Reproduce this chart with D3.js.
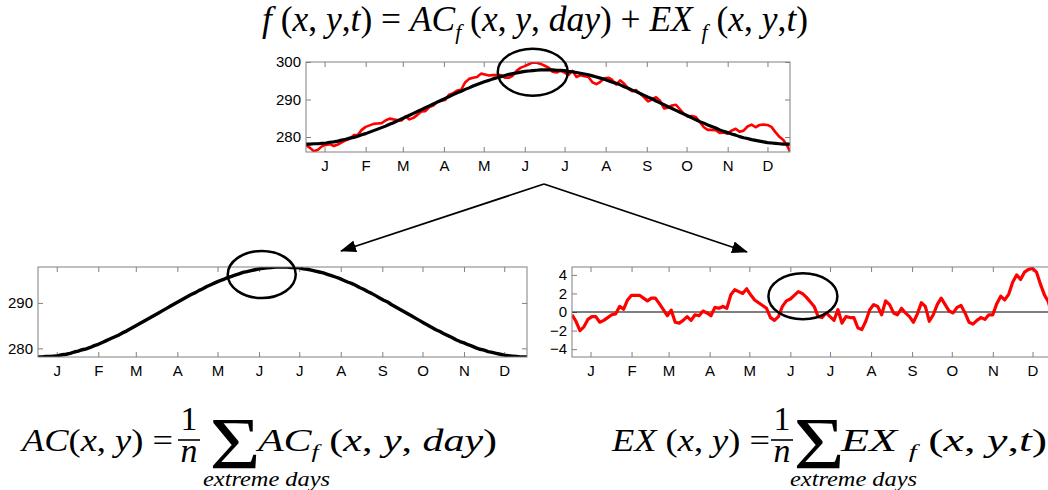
<!DOCTYPE html>
<html><head><meta charset="utf-8">
<script src="https://cdn.jsdelivr.net/npm/d3@7"></script>
<style>body{margin:0;background:#fff} svg{display:block}</style>
</head><body>
<svg id="chart" width="1048" height="490"></svg>
<script>
// ---------------- data ----------------
const months = ["J","F","M","A","M","J","J","A","S","O","N","D"];
const monthTickDays = [14,45,73,104,134,165,195,226,257,287,318,348];
const days = d3.range(0, 364, 3).concat([365]);
// annual cycle AC_f(x,y,day) (K)
const acValues = [
 278.1,278.1,278.2,278.2,278.3,278.4,278.6,278.7,278.9,279.2,
 279.4,279.7,279.9,280.2,280.6,280.9,281.3,281.7,282.1,282.5,
 282.9,283.4,283.8,284.3,284.8,285.3,285.8,286.3,286.8,287.3,
 287.8,288.3,288.8,289.3,289.8,290.3,290.8,291.3,291.8,292.2,
 292.7,293.1,293.6,294.0,294.4,294.8,295.1,295.5,295.8,296.1,
 296.4,296.7,296.9,297.1,297.3,297.5,297.6,297.7,297.8,297.9,
 297.9,297.9,297.9,297.8,297.8,297.7,297.5,297.4,297.2,297.0,
 296.8,296.6,296.3,296.0,295.7,295.4,295.0,294.6,294.3,293.9,
 293.4,293.0,292.5,292.1,291.6,291.1,290.6,290.2,289.6,289.1,
 288.6,288.1,287.6,287.1,286.6,286.1,285.6,285.1,284.6,284.1,
 283.7,283.2,282.8,282.4,281.9,281.5,281.2,280.8,280.5,280.1,
 279.8,279.6,279.3,279.1,278.9,278.7,278.5,278.4,278.3,278.2,
 278.1,278.1,278.1
];
// anomaly EX_f(x,y,t) (K)
const exValues = [
 -0.3,-1.0,-2.0,-1.6,-0.8,-0.5,-0.5,-1.1,-0.9,-0.6,
 -0.3,-0.2,0.6,0.3,1.3,1.8,1.8,1.8,1.5,1.2,
 1.5,1.5,0.9,0.25,-0.4,0.2,-1.1,-1.2,-0.9,-0.5,
 -0.9,-0.3,-0.4,0.1,-0.1,-0.4,0.5,0.4,0.6,0.4,
 1.85,2.4,2.2,2.0,2.5,1.85,1.3,1.0,0.7,0.4,
 -0.6,-0.9,-0.5,0.6,1.2,1.4,1.8,2.2,2.0,1.6,
 1.1,0.6,-0.5,-0.6,-0.1,-0.5,-0.9,0.25,-1.2,-0.5,
 -0.6,-0.6,-1.7,-1.9,-1.0,0.25,0.8,0.6,-0.3,1.2,
 0.8,-0.1,-0.3,0.4,-0.1,-0.5,-1.1,-0.2,1.0,0.6,
 -1.0,-0.3,0.8,1.5,0.8,0.1,-0.1,0.5,0.7,-0.1,
 -1.1,-1.3,-0.9,-0.6,-0.8,-0.3,-0.3,0.9,1.7,1.3,
 1.9,3.2,4.0,3.5,4.3,4.6,4.7,4.3,3.0,1.85,
 1.1,-0.5,-2.0
];
// full field f = AC + EX
const fValues = acValues.map((v, i) => +(v + exValues[i]).toFixed(2));

const topYTicks = [280, 290, 300];
const acYTicks = [280, 290];
const exYTicks = [-4, -2, 0, 2, 4];

// ---------------- drawing ----------------
const svg = d3.select("#chart");
const AXIS = "#808080";
const SANS = "'Liberation Sans', Arial, Helvetica, sans-serif";
const SERIF = "'Liberation Serif', Tinos, 'Times New Roman', Times, 'Noto Serif', 'DejaVu Serif', serif";
const defs = svg.append("defs");
let clipN = 0;

// measure real glyph ink by rasterising into a canvas
function inkBox(str, css) {
  const W = 500, H = 320, ox = 120, oy = 220;
  const c = document.createElement("canvas"); c.width = W; c.height = H;
  const cx = c.getContext("2d");
  cx.font = css; cx.fillStyle = "#000"; cx.textBaseline = "alphabetic";
  cx.fillText(str, ox, oy);
  const d = cx.getImageData(0, 0, W, H).data;
  let x0 = 1e9, x1 = -1, y0 = 1e9, y1 = -1;
  for (let yy = 0; yy < H; yy++) for (let xx = 0; xx < W; xx++) {
    if (d[(yy * W + xx) * 4 + 3] > 110) {
      if (xx < x0) x0 = xx; if (xx > x1) x1 = xx;
      if (yy < y0) y0 = yy; if (yy > y1) y1 = yy;
    }
  }
  if (x1 < 0) return null;
  return {left: x0 - ox, right: x1 + 1 - ox, top: oy - y0, bottom: y1 + 1 - oy};
}
const hBox = inkBox("H", `100px ${SERIF}`);
const capRatio = hBox ? hBox.top / 100 : 0.66;

function panel(o) {
  const x = d3.scaleLinear().domain([0, 365]).range([o.x0, o.x1]);
  const y = d3.scaleLinear().domain(o.yDomain).range([o.y1, o.y0]);
  const g = svg.append("g");
  const cid = "clip" + (clipN++);
  defs.append("clipPath").attr("id", cid).append("rect")
    .attr("x", o.x0).attr("y", o.y0).attr("width", o.x1 - o.x0).attr("height", o.y1 - o.y0);

  const ax = (sel) => {
    sel.select(".domain").remove();
    sel.selectAll(".tick line").attr("stroke", AXIS).attr("stroke-width", 1);
    sel.selectAll("text").attr("font-family", SANS).attr("font-size", 15).attr("fill", "#000");
  };
  g.append("g").attr("transform", `translate(0,${o.y1})`)
    .call(d3.axisBottom(x).tickValues(monthTickDays).tickFormat((d, i) => months[i])
      .tickSizeInner(-5).tickSizeOuter(0).tickPadding(8)).call(ax);
  g.append("g").attr("transform", `translate(0,${o.y0})`)
    .call(d3.axisTop(x).tickValues(monthTickDays).tickFormat("")
      .tickSizeInner(-5).tickSizeOuter(0)).call(ax);
  g.append("g").attr("transform", `translate(${o.x0},0)`)
    .call(d3.axisLeft(y).tickValues(o.yTicks).tickSizeInner(-5).tickSizeOuter(0).tickPadding(5)).call(ax);
  g.append("g").attr("transform", `translate(${o.x1},0)`)
    .call(d3.axisRight(y).tickValues(o.yTicks).tickFormat("").tickSizeInner(-5).tickSizeOuter(0)).call(ax);

  if (o.zero) {
    g.append("line").attr("x1", o.x0).attr("x2", o.x1).attr("y1", y(0)).attr("y2", y(0))
      .attr("stroke", "#000").attr("stroke-width", 1.2);
  }
  const lg = g.append("g").attr("clip-path", `url(#${cid})`);
  o.series.forEach(s => {
    lg.append("path")
      .datum(days.map((d, i) => [d, s.values[i]]))
      .attr("fill", "none").attr("stroke", s.color).attr("stroke-width", s.width)
      .attr("stroke-linejoin", "round")
      .attr("d", d3.line().x(d => x(d[0])).y(d => y(d[1])));
  });
  g.append("rect").attr("x", o.x0).attr("y", o.y0)
    .attr("width", o.x1 - o.x0).attr("height", o.y1 - o.y0)
    .attr("fill", "none").attr("stroke", AXIS).attr("stroke-width", 1);

  if (o.ellipse) {
    svg.append("ellipse")
      .attr("cx", x(o.ellipse.day)).attr("cy", y(o.ellipse.value))
      .attr("rx", o.ellipse.rx).attr("ry", o.ellipse.ry)
      .attr("fill", "none").attr("stroke", "#000").attr("stroke-width", 2.5);
  }
}

panel({x0: 306, x1: 790, y0: 62, y1: 152, yDomain: [276, 300], yTicks: topYTicks,
  series: [{values: fValues, color: "#ff0000", width: 2.6}, {values: acValues, color: "#000", width: 3.2}],
  ellipse: {day: 171, value: 297.3, rx: 35, ry: 23.5}});
panel({x0: 38, x1: 527, y0: 267, y1: 357, yDomain: [278.1, 297.9], yTicks: acYTicks,
  series: [{values: acValues, color: "#000", width: 3.4}],
  ellipse: {day: 167, value: 296.25, rx: 34, ry: 23.5}});
panel({x0: 572, x1: 1055, y0: 267, y1: 357, yDomain: [-4.85, 4.85], yTicks: exYTicks, zero: true,
  series: [{values: exValues, color: "#ff0000", width: 3.2}],
  ellipse: {day: 174.5, value: 1.7, rx: 34.5, ry: 23}});

// arrows
defs.append("marker").attr("id", "ah").attr("viewBox", "0 0 16 12")
  .attr("refX", 15).attr("refY", 6).attr("markerWidth", 16).attr("markerHeight", 12)
  .attr("markerUnits", "userSpaceOnUse").attr("orient", "auto")
  .append("path").attr("d", "M0,0 L16,6 L0,12 Z").attr("fill", "#000");
[[341, 251], [747, 252]].forEach(([tx, ty]) => {
  svg.append("line").attr("x1", 544).attr("y1", 184).attr("x2", tx).attr("y2", ty)
    .attr("stroke", "#000").attr("stroke-width", 1.8).attr("marker-end", "url(#ah)");
});

// formulas: font size from target cap height, horizontal scale to target width
function formula(segs, x, baseline, width, cap) {
  const size = cap / capRatio;
  const t = svg.append("text").attr("font-family", SERIF).attr("font-size", size)
    .attr("fill", "#000").style("white-space", "pre");
  let shift = 0;
  segs.forEach(([s, k]) => {
    const ts = t.append("tspan").text(s);
    if (k === "sub") {
      ts.attr("font-style", "italic").attr("font-size", size * 0.62).attr("dy", 0.24 * size - shift);
      shift = 0.24 * size;
    } else {
      if (shift) { ts.attr("dy", -shift); shift = 0; }
      ts.attr("font-style", k === "i" ? "italic" : "normal");
    }
  });
  const w = t.node().getComputedTextLength();
  t.attr("transform", `translate(${x},${baseline}) scale(${width / w},1)`);
  return t;
}

formula([["f","i"],[" (","r"],["x","i"],[", ","r"],["y","i"],[",","r"],["t","i"],[")","r"],[" = ","r"],
  ["AC","i"],["f","sub"],[" (","r"],["x","i"],[", ","r"],["y","i"],[", ","r"],["day","i"],[")","r"],[" + ","r"],
  ["EX","i"],[" ","r"],["f","sub"],[" (","r"],["x","i"],[", ","r"],["y","i"],[",","r"],["t","i"],[")","r"]],
  262, 31, 546, 23);

function sigma(x0, x1, yTop, yBot) {
  const m = inkBox("Σ", `100px ${SERIF}`) || {left: 2, right: 60, top: 66, bottom: 0};
  const k = (yBot - yTop) / (m.top + m.bottom);
  const size = 100 * k;
  const inkW = (m.right - m.left) * k;
  const sx = (x1 - x0) / inkW;
  svg.append("g").attr("transform", `translate(${x0},${yBot}) scale(${sx},1)`)
    .append("text").attr("x", -m.left * k).attr("y", -m.bottom * k)
    .attr("font-family", SERIF).attr("font-size", size).text("Σ");
}

function sumFormula(left, right, lx0, lx1, fracX, sx0, sx1, rx0, rx1, ex0) {
  formula(left, lx0, 451, lx1 - lx0, 20);
  const numSize = 22 / capRatio;
  svg.append("text").attr("x", fracX).attr("y", 430).attr("text-anchor", "middle")
    .attr("font-family", SERIF).attr("font-size", numSize).text("1");
  svg.append("line").attr("x1", fracX - 11).attr("x2", fracX + 11).attr("y1", 440).attr("y2", 440)
    .attr("stroke", "#000").attr("stroke-width", 1.6);
  svg.append("text").attr("x", fracX).attr("y", 462).attr("text-anchor", "middle")
    .attr("font-family", SERIF).attr("font-style", "italic").attr("font-size", numSize).text("n");
  sigma(sx0, sx1, 421, 470);
  formula(right, rx0, 451, rx1 - rx0, 20);
  formula([["extreme days","i"]], ex0, 486, 127, 13.5);
}

sumFormula([["AC","i"],["(","r"],["x","i"],[", ","r"],["y","i"],[")","r"],[" =","r"]],
  [["AC","i"],["f","sub"],[" (","r"],["x","i"],[", ","r"],["y","i"],[", ","r"],["day","i"],[")","r"]],
  22, 173, 189, 213, 256, 258, 497, 203);
sumFormula([["EX","i"],[" (","r"],["x","i"],[", ","r"],["y","i"],[")","r"],[" =","r"]],
  [["EX","i"],[" ","r"],["f","sub"],[" (","r"],["x","i"],[", ","r"],["y","i"],[",","r"],["t","i"],[")","r"]],
  612, 770, 782, 797, 840, 841, 1047, 790);
</script>
</body></html>
